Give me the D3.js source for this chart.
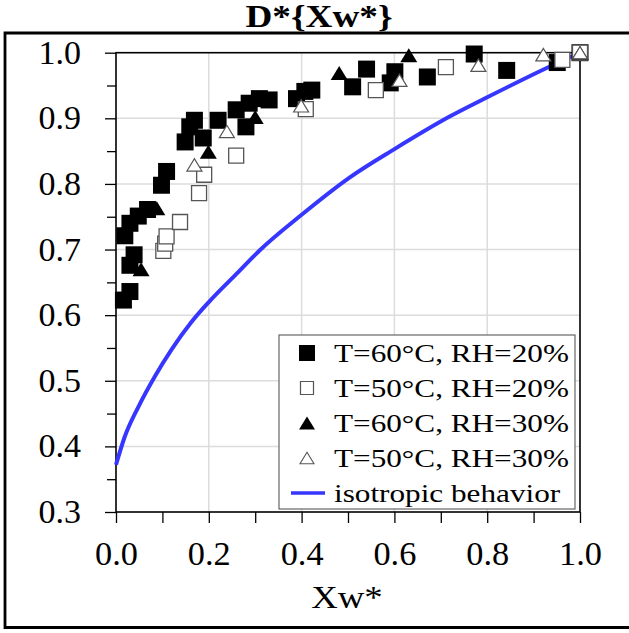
<!DOCTYPE html>
<html>
<head>
<meta charset="utf-8">
<script src="https://cdn.jsdelivr.net/npm/d3@7"></script>
<style>
  html, body { margin: 0; padding: 0; background: #fff; }
  svg { display: block; }
  text { font-family: "Liberation Serif", "Times New Roman", serif; fill: #000; }
</style>
</head>
<body>
<svg id="chart" width="629" height="633"></svg>
<script>
// Relative diffusivity D* against relative water content Xw*
const titleText = "D*{Xw*}";
const xTitle = "Xw*";

// T=60°C, RH=20% (filled squares)
const t60rh20 = [
  [0.016,0.623],[0.030,0.636],[0.030,0.676],[0.039,0.692],[0.019,0.721],[0.030,0.740],
  [0.048,0.751],[0.068,0.761],[0.098,0.798],[0.109,0.819],[0.149,0.864],[0.159,0.887],
  [0.169,0.897],[0.188,0.870],[0.220,0.897],[0.259,0.913],[0.280,0.887],[0.287,0.923],
  [0.309,0.930],[0.330,0.928],[0.389,0.930],[0.407,0.941],[0.422,0.943],[0.510,0.948],
  [0.540,0.975],[0.591,0.954],[0.601,0.971],[0.671,0.963],[0.772,0.998],[0.842,0.973],
  [0.951,0.985],[1.000,1.000]
];
// T=50°C, RH=20% (open squares)
const t50rh20 = [
  [0.102,0.698],[0.106,0.709],[0.109,0.720],[0.138,0.742],[0.179,0.786],[0.190,0.814],
  [0.259,0.843],[0.409,0.914],[0.560,0.943],[0.711,0.978],[0.962,0.989],[1.000,1.000]
];
// T=60°C, RH=30% (filled triangles)
const t60rh30 = [
  [0.054,0.670],[0.088,0.763],[0.199,0.849],[0.300,0.902],[0.481,0.969],[0.631,0.996],[1.000,1.000]
];
// T=50°C, RH=30% (open triangles)
const t50rh30 = [
  [0.169,0.829],[0.239,0.880],[0.399,0.919],[0.611,0.958],[0.781,0.981],[0.921,0.997],[1.000,1.000]
];
// isotropic behavior curve
const isoX = [0, 0.019, 0.048, 0.084, 0.120, 0.163, 0.200, 0.264, 0.310, 0.400, 0.504, 0.600, 0.720, 0.800, 0.935, 1.000];
const isoY = [0.372, 0.415, 0.460, 0.507, 0.548, 0.590, 0.620, 0.666, 0.699, 0.753, 0.810, 0.853, 0.903, 0.932, 0.979, 1.000];

const legendLabels = ["T=60°C, RH=20%", "T=50°C, RH=20%", "T=60°C, RH=30%", "T=50°C, RH=30%", "isotropic behavior"];

const xTickValues = [0, 0.1, 0.2, 0.3, 0.4, 0.5, 0.6, 0.7, 0.8, 0.9, 1.0];
const xTickLabels = ["0.0", "", "0.2", "", "0.4", "", "0.6", "", "0.8", "", "1.0"];
const yTickValues = [0.3, 0.4, 0.5, 0.6, 0.7, 0.8, 0.9, 1.0];
const yTickLabels = ["0.3", "0.4", "0.5", "0.6", "0.7", "0.8", "0.9", "1.0"];
const yMinorValues = [0.35, 0.45, 0.55, 0.65, 0.75, 0.85, 0.95];
const xGridValues = [0.2, 0.4, 0.6, 0.8];
const yGridValues = [0.4, 0.5, 0.6, 0.7, 0.8, 0.9];

const svg = d3.select("#chart");
const BLUE = "#3636ff";

const x = d3.scaleLinear().domain([0, 1]).range([116, 580]);
const y = d3.scaleLinear().domain([0.3, 1]).range([512, 52.7]);

// widen text horizontally, keeping its glyph height
function stretch(sel, k) {
  sel.each(function () {
    const w = this.getComputedTextLength();
    if (w > 0) d3.select(this).attr("textLength", w * k).attr("lengthAdjust", "spacingAndGlyphs");
  });
}

// outer frame (open on the right side)
svg.append("path").attr("d", "M640,33H5V627.5H640")
  .attr("fill", "none").attr("stroke", "#000").attr("stroke-width", 2.8);

// title
svg.append("text").attr("x", 319).attr("y", 27).attr("text-anchor", "middle")
  .attr("font-size", 31).attr("font-weight", "bold").text(titleText)
  .call(stretch, 1.2);

// grid
const grid = svg.append("g");
grid.selectAll("line.gx").data(xGridValues).join("line")
  .attr("x1", d => x(d)).attr("x2", d => x(d)).attr("y1", y(0.3)).attr("y2", y(1))
  .attr("stroke", "#dcdcdc").attr("stroke-width", 1.5);
grid.selectAll("line.gy").data(yGridValues).join("line")
  .attr("x1", x(0)).attr("x2", x(1)).attr("y1", d => y(d)).attr("y2", d => y(d))
  .attr("stroke", "#dcdcdc").attr("stroke-width", 1.5);

// axes
const xAxis = svg.append("g").attr("transform", `translate(0,${y(0.3)})`)
  .call(d3.axisBottom(x).tickValues(xTickValues).tickSize(11).tickPadding(19)
    .tickFormat((d, i) => xTickLabels[i]));
const yAxis = svg.append("g").attr("transform", `translate(${x(0)},0)`)
  .call(d3.axisLeft(y).tickValues(yTickValues).tickSize(11).tickPadding(24)
    .tickFormat((d, i) => yTickLabels[i]));
const yMinor = svg.append("g").attr("transform", `translate(${x(0)},0)`)
  .call(d3.axisLeft(y).tickValues(yMinorValues).tickSize(9).tickFormat(""));

[xAxis, yAxis, yMinor].forEach(g => {
  g.select(".domain").remove();
  g.selectAll(".tick line").attr("stroke", "#000").attr("stroke-width", 1.3);
  g.selectAll(".tick text").attr("font-size", 33).attr("font-family", "Liberation Serif, Times New Roman, serif").attr("fill", "#000");
});
xAxis.selectAll(".tick text").call(stretch, 1.04);
yAxis.selectAll(".tick text").call(stretch, 1.03);

// plot frame
svg.append("rect").attr("x", x(0)).attr("y", y(1)).attr("width", x(1) - x(0)).attr("height", y(0.3) - y(1))
  .attr("fill", "none").attr("stroke", "#000").attr("stroke-width", 1.6);

// axis title
svg.append("text").attr("x", 347).attr("y", 608).attr("text-anchor", "middle")
  .attr("font-size", 32).text(xTitle).call(stretch, 1.15);

// isotropic curve
const isoData = isoX.map((v, i) => [v, isoY[i]]);
svg.append("path").datum(isoData)
  .attr("d", d3.line().x(d => x(d[0])).y(d => y(d[1])).curve(d3.curveMonotoneX))
  .attr("fill", "none").attr("stroke", BLUE).attr("stroke-width", 4);

// triangle symbol centred on its bounding box
const triBox = {
  draw(ctx, size) {
    const w = Math.sqrt(size), h = w * 0.82;
    ctx.moveTo(-w / 2, h / 2);
    ctx.lineTo(w / 2, h / 2);
    ctx.lineTo(0, -h / 2);
    ctx.closePath();
  }
};

function markers(data, type, side, fill, stroke, sw) {
  svg.append("g").selectAll("path").data(data).join("path")
    .attr("transform", d => `translate(${x(d[0])},${y(d[1])})`)
    .attr("d", d3.symbol().type(type).size(side * side))
    .attr("fill", fill).attr("stroke", stroke).attr("stroke-width", sw);
}
markers(t60rh20, d3.symbolSquare, 17, "#000", "none", 0);
markers(t50rh20, d3.symbolSquare, 15, "#fff", "#555", 1.3);
markers(t60rh30, triBox, 17, "#000", "none", 0);
markers(t50rh30, triBox, 15, "#fff", "#555", 1.2);

// legend
const lg = svg.append("g");
lg.append("rect").attr("x", 279).attr("y", 335).attr("width", 296).attr("height", 174)
  .attr("fill", "#fff").attr("stroke", "#666").attr("stroke-width", 1.2);
const rowY = i => 353 + i * 35;
const legendMarks = [
  { type: d3.symbolSquare, side: 16, fill: "#000", stroke: "none", sw: 0 },
  { type: d3.symbolSquare, side: 13, fill: "#fff", stroke: "#555", sw: 1.2 },
  { type: triBox, side: 16, fill: "#000", stroke: "none", sw: 0 },
  { type: triBox, side: 14, fill: "#fff", stroke: "#555", sw: 1.1 }
];
legendMarks.forEach((m, i) => {
  lg.append("path").attr("transform", `translate(307,${rowY(i)})`)
    .attr("d", d3.symbol().type(m.type).size(m.side * m.side))
    .attr("fill", m.fill).attr("stroke", m.stroke).attr("stroke-width", m.sw);
});
lg.append("line").attr("x1", 291).attr("x2", 325).attr("y1", rowY(4)).attr("y2", rowY(4))
  .attr("stroke", BLUE).attr("stroke-width", 3.5);
lg.selectAll("text").data(legendLabels).join("text")
  .attr("x", 334).attr("y", (d, i) => rowY(i) + 9)
  .attr("font-size", 26).text(d => d)
  .call(stretch, 1.2);
</script>
</body>
</html>
